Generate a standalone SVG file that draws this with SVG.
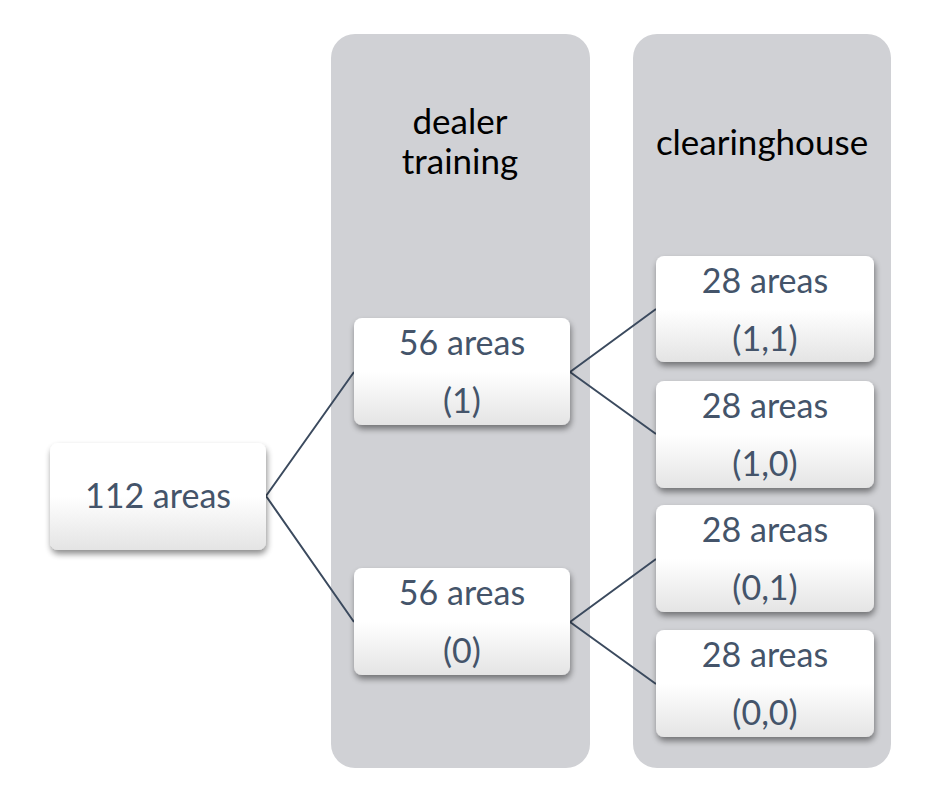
<svg xmlns="http://www.w3.org/2000/svg" width="952" height="802" viewBox="0 0 952 802">
<defs>
<linearGradient id="g" x1="0" y1="0" x2="0" y2="1">
<stop offset="0" stop-color="#ffffff"/>
<stop offset="0.5" stop-color="#ffffff"/>
<stop offset="1" stop-color="#e4e4e4"/>
</linearGradient>
<filter id="sh" x="-20%" y="-20%" width="140%" height="150%">
<feGaussianBlur in="SourceAlpha" stdDeviation="3"/>
<feOffset dx="1" dy="4" result="b"/>
<feComponentTransfer><feFuncA type="linear" slope="0.45"/></feComponentTransfer>
<feMerge><feMergeNode/><feMergeNode in="SourceGraphic"/></feMerge>
</filter>
</defs>
<style>
.panel{fill:#d0d1d5}
.box{fill:url(#g);filter:url(#sh)}
.t{font-family:Lato,"Open Sans","Liberation Sans",sans-serif;font-size:34px;fill:#44546a;text-anchor:middle}
.h{font-family:Lato,"Open Sans","Liberation Sans",sans-serif;font-size:35px;fill:#000;text-anchor:middle}
.c{stroke:#3b4a5e;stroke-width:2;fill:none}
</style>
<rect width="952" height="802" fill="#fff"/>
<g id="panel-dealer"><rect class="panel" x="331" y="34" width="259" height="734" rx="24"/>
<text class="h" x="460" y="134">dealer</text><text class="h" x="460" y="174">training</text></g>
<g id="panel-clearinghouse"><rect class="panel" x="633" y="34" width="258" height="734" rx="24"/>
<text class="h" x="762" y="155">clearinghouse</text></g>
<g id="connectors">
<path class="c" d="M266,496 L354,372 M266,496 L354,622 M570,372 L656,309 M570,372 L656,434 M570,622 L656,559 M570,622 L656,684"/>
</g>
<g id="n112"><rect class="box" x="50" y="443" width="216" height="107" rx="8"/><text class="t" x="158" y="508">112 areas</text></g>
<g id="n56-1"><rect class="box" x="354" y="318" width="216" height="107" rx="8"/><text class="t" x="462" y="355">56 areas</text><text class="t" x="462" y="413">(1)</text></g>
<g id="n56-0"><rect class="box" x="354" y="568" width="216" height="107" rx="8"/><text class="t" x="462" y="605">56 areas</text><text class="t" x="462" y="663">(0)</text></g>
<g id="n28-11"><rect class="box" x="656" y="256" width="218" height="106" rx="8"/><text class="t" x="765" y="293">28 areas</text><text class="t" x="765" y="351">(1,1)</text></g>
<g id="n28-10"><rect class="box" x="656" y="381" width="218" height="107" rx="8"/><text class="t" x="765" y="418">28 areas</text><text class="t" x="765" y="476">(1,0)</text></g>
<g id="n28-01"><rect class="box" x="656" y="505" width="218" height="107" rx="8"/><text class="t" x="765" y="542">28 areas</text><text class="t" x="765" y="600">(0,1)</text></g>
<g id="n28-00"><rect class="box" x="656" y="630" width="218" height="107" rx="8"/><text class="t" x="765" y="667">28 areas</text><text class="t" x="765" y="725">(0,0)</text></g>
</svg>
